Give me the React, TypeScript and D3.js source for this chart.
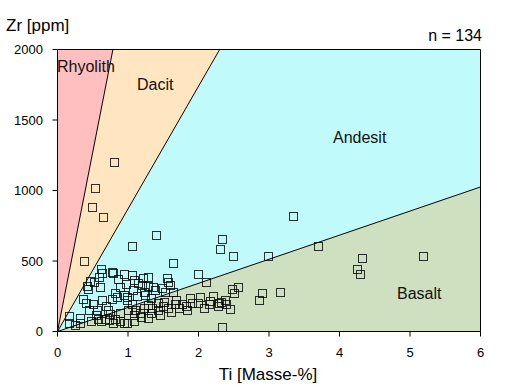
import * as d3 from "d3";

// Ti [Masse-%] and Zr [ppm] of the 134 samples
const ti = [
  0.80, 0.53, 0.49, 0.64, 0.37, 1.40, 1.06, 1.64, 3.34, 2.33, 2.30, 2.49, 2.98, 3.70, 4.32, 4.25, 4.29, 5.18,
  1.99, 2.11, 2.47, 2.56, 2.51, 2.90, 2.86, 3.16, 2.44, 2.33,
  1.99, 2.08, 2.17, 2.15, 2.28, 2.32, 2.37, 2.29,
  1.06, 1.21, 1.29, 1.56, 1.57, 1.14, 1.29, 1.07, 1.23, 1.39, 1.52, 1.64, 0.99, 1.13, 1.24,
  1.06, 1.29, 1.42, 1.51, 1.66, 1.76, 1.82, 1.91, 1.10, 1.17, 1.32, 1.43, 1.57, 1.72, 1.08, 1.29, 1.09, 0.98, 1.19,
  0.62, 0.63, 0.79, 0.77, 0.94, 0.59, 0.46, 0.52, 0.42, 0.43, 0.82, 0.84, 0.94, 0.98, 0.36, 0.40, 0.50, 0.63, 0.69,
  0.44, 0.56, 0.72, 0.17, 0.16, 0.48, 0.57, 0.67, 0.73, 0.82, 0.79, 0.89, 0.94, 0.62,
  0.60, 0.97, 1.20, 1.36, 1.48, 1.60, 0.77, 1.32, 1.08, 0.86,
  1.46, 1.61, 1.83, 1.88, 1.68, 1.49, 1.34, 1.22, 1.00, 0.88, 0.75, 0.54, 0.25, 0.32, 0.32, 2.02, 2.21, 2.39, 0.89,
];
const zr = [
  1202, 1020, 885, 814, 502, 684, 604, 486, 819, 658, 587, 538, 535, 609, 523, 445, 410, 538,
  411, 351, 299, 318, 275, 275, 226, 282, 162, 34,
  200, 167, 218, 197, 181, 211, 221, 200,
  399, 379, 384, 377, 349, 342, 323, 294, 278, 292, 278, 282, 247, 252, 259,
  197, 188, 204, 207, 193, 195, 181, 200, 152, 133, 133, 152, 169, 165, 117, 94, 74, 58, 105,
  441, 417, 413, 422, 408, 384, 360, 349, 323, 299, 275, 247, 257, 223, 228, 200, 195, 223, 183,
  152, 152, 152, 110, 62, 77, 87, 87, 82, 91, 62, 77, 58, 74,
  313, 335, 330, 313, 306, 330, 228, 240, 365, 372,
  117, 138, 152, 238, 223, 181, 167, 167, 152, 131, 124, 117, 46, 96, 60, 245, 252, 195, 316,
];

// field boundaries (Zr at the top edge / right edge)
const rhyoDacitTi = 0.786;
const dacitAndesitTi = 2.3;
const andesitBasaltZr = 1025;

const xTicks = [0, 1, 2, 3, 4, 5, 6];
const yTicks = [0, 500, 1000, 1500, 2000];

const fields = [
  { name: "Rhyolith", color: "#ffbfbf", pts: [[0, 0], [0, 2000], [rhyoDacitTi, 2000]] },
  { name: "Dacit", color: "#ffe6c0", pts: [[0, 0], [rhyoDacitTi, 2000], [dacitAndesitTi, 2000]] },
  { name: "Andesit", color: "#c0fafa", pts: [[0, 0], [dacitAndesitTi, 2000], [6, 2000], [6, andesitBasaltZr]] },
  { name: "Basalt", color: "#cee0c0", pts: [[0, 0], [6, andesitBasaltZr], [6, 0]] },
];

const labels = [
  { text: "Rhyolith", x: 57, y: 72 },
  { text: "Dacit", x: 137, y: 90 },
  { text: "Andesit", x: 333, y: 143 },
  { text: "Basalt", x: 397, y: 299 },
];

export default function App() {
  const x = d3.scaleLinear().domain([0, 6]).range([57.5, 480.5]);
  const y = d3.scaleLinear().domain([0, 2000]).range([331.5, 49.5]);
  const line = d3.line<number[]>().x(d => x(d[0])).y(d => y(d[1]));
  const font = "'Liberation Sans', Arial, sans-serif";
  const s = 8;

  return (
    <svg width={521} height={391} style={{ position: "absolute", left: 0, top: 0, background: "#fff" }} fontFamily={font}>
      {fields.map(f => (
        <path key={f.name} d={line(f.pts) + "Z"} fill={f.color} />
      ))}
      {/* boundary lines */}
      <path d={line([[0, 0], [rhyoDacitTi, 2000]])!} stroke="#000" fill="none" strokeWidth={1} />
      <path d={line([[0, 0], [dacitAndesitTi, 2000]])!} stroke="#000" fill="none" strokeWidth={1} />
      <path d={line([[0, 0], [6, andesitBasaltZr]])!} stroke="#000" fill="none" strokeWidth={1} />

      {labels.map(l => (
        <text key={l.text} x={l.x} y={l.y} fontSize={16} fill="#111">{l.text}</text>
      ))}

      {ti.map((t, i) => (
        <rect key={i} x={Math.round(x(t) - s / 2) + 0.5} y={Math.round(y(zr[i]) - s / 2) + 0.5} width={s} height={s}
          fill="none" stroke="#000" strokeOpacity={0.8} strokeWidth={1} />
      ))}

      {/* frame */}
      <path d={`M${x(0)},${y(2000)}H${x(6)}V${y(0)}`} stroke="#000" fill="none" />
      <line x1={x(0)} x2={x(0)} y1={y(0)} y2={y(2000)} stroke="#000" />
      <line x1={x(0)} x2={x(6)} y1={y(0)} y2={y(0)} stroke="#000" />

      {yTicks.map(t => (
        <g key={t}>
          <line x1={x(0) - 5} x2={x(0)} y1={y(t)} y2={y(t)} stroke="#000" />
          <text x={43} y={y(t) + 4.5} textAnchor="end" fontSize={13} fill="#000">{t}</text>
        </g>
      ))}
      {xTicks.map(t => (
        <g key={t}>
          <line x1={x(t)} x2={x(t)} y1={y(0)} y2={y(0) + 5} stroke="#000" />
          <text x={x(t)} y={357} textAnchor="middle" fontSize={13} fill="#000">{t}</text>
        </g>
      ))}

      <text x={6} y={31} fontSize={17} fill="#000">Zr [ppm]</text>
      <text x={268} y={380} textAnchor="middle" fontSize={17} fill="#000">Ti [Masse-%]</text>
      <text x={482} y={41} textAnchor="end" fontSize={16} fill="#000">n = 134</text>
    </svg>
  );
}
